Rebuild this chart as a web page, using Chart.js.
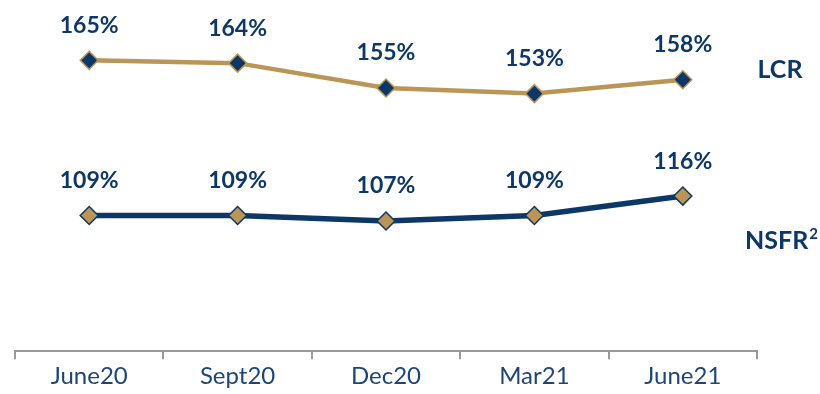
<!DOCTYPE html>
<html><head><meta charset="utf-8">
<script src="https://cdn.jsdelivr.net/npm/chart.js@4"></script>
<style>html,body{margin:0;padding:0;background:#fff}#wrap{width:820px;height:394px;position:relative}</style>
</head><body><div id="wrap"><canvas id="c" width="820" height="394"></canvas></div>
<script>
const categories = ["June20", "Sept20", "Dec20", "Mar21", "June21"];
const lcrValues = [165, 164, 155, 153, 158];
const nsfrValues = [109, 109, 107, 109, 116];
const seriesNames = ["LCR", "NSFR²"];

const NAVY = "#0c3766";
const GOLD = "#bb9555";

const valueLabels = {
  id: "valueLabels",
  afterDatasetsDraw(chart) {
    const ctx = chart.ctx;
    ctx.save();
    ctx.font = "bold 23px Lato";
    ctx.fillStyle = NAVY;
    ctx.textAlign = "center";
    ctx.textBaseline = "middle";
    chart.data.datasets.forEach((ds, i) => {
      chart.getDatasetMeta(i).data.forEach((pt, j) => {
        ctx.fillText(ds.data[j] + "%", pt.x, pt.y - 35);
      });
    });
    // series names on the right
    ctx.font = "bold 25px Lato";
    ctx.textAlign = "center";
    ctx.fillText(seriesNames[0], 780, 70);
    ctx.textAlign = "left";
    ctx.fillText("NSFR", 745, 241);
    const w = ctx.measureText("NSFR").width;
    ctx.font = "bold 15px Lato";
    ctx.fillText("2", 745 + w + 1, 234);
    ctx.restore();
  }
};

new Chart(document.getElementById("c"), {
  type: "line",
  data: {
    labels: categories,
    datasets: [
      {
        label: seriesNames[0], data: lcrValues,
        borderColor: GOLD, borderWidth: 4.5,
        pointStyle: "rectRot", pointRadius: 9, pointHoverRadius: 9,
        pointBackgroundColor: NAVY, pointBorderColor: GOLD, pointBorderWidth: 1.5,
        tension: 0
      },
      {
        label: seriesNames[1], data: nsfrValues,
        borderColor: NAVY, borderWidth: 5.5,
        pointStyle: "rectRot", pointRadius: 9, pointHoverRadius: 9,
        pointBackgroundColor: GOLD, pointBorderColor: NAVY, pointBorderWidth: 1.5,
        tension: 0
      }
    ]
  },
  options: {
    responsive: false, animation: false,
    layout: { padding: { left: 15, right: 63, top: 9, bottom: 0 } },
    plugins: { legend: { display: false }, tooltip: { enabled: false } },
    scales: {
      x: {
        offset: true,
        grid: { offset: true, drawOnChartArea: false, drawTicks: true, tickLength: 8, color: "#999999", lineWidth: 2 },
        border: { display: true, color: "#999999", width: 2 },
        ticks: { color: "#1d4577", font: { family: "Lato", size: 24 }, padding: 3 }
      },
      y: {
        display: false, min: 60, max: 183
      }
    }
  },
  plugins: [valueLabels]
});
</script></body></html>
